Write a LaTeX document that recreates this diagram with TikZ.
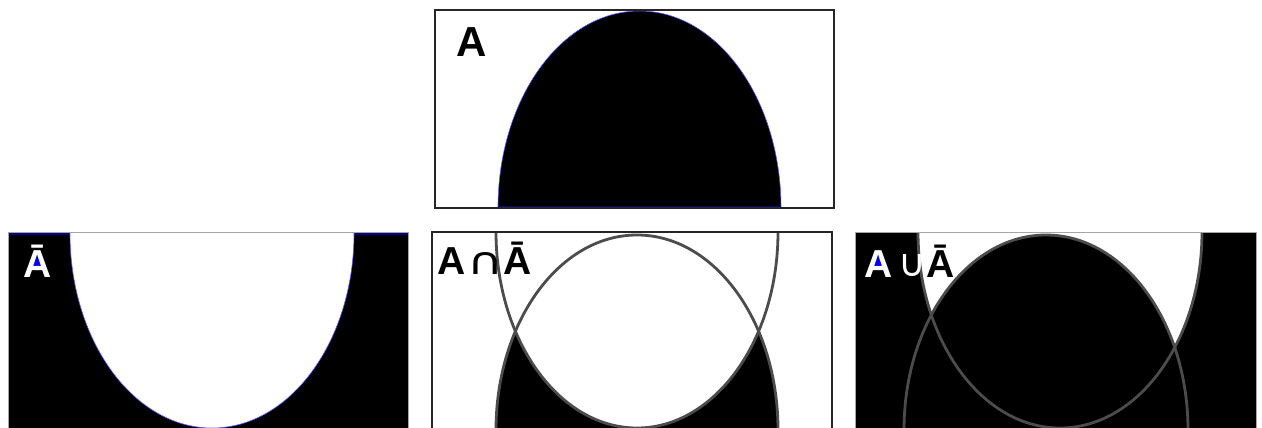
\documentclass[tikz,border=0pt]{standalone}
\usepackage{fontspec}
\setmainfont{Liberation Sans}
\newfontfamily\symfont{DejaVu Sans}
\begin{document}
\begin{tikzpicture}[x=1pt,y=-1pt,
  lab/.style={anchor=base west, inner sep=0pt, font=\fontsize{39}{39}\selectfont\bfseries},
  biglab/.style={anchor=base west, inner sep=0pt, font=\fontsize{42}{42}\selectfont\bfseries},
  symlab/.style={anchor=base west, inner sep=0pt, font=\fontsize{38}{38}\symfont},
  outl/.style={draw=black!70, line width=2.8pt},
  bedge/.style={draw=blue!65, line width=0.6pt},
  frame/.style={draw=black!85, line width=1.6pt},
  lframe/.style={draw=black!35, line width=0.8pt}]
\useasboundingbox (0,0) rectangle (1262,428);
% ---- top panel: A
\begin{scope}
  \clip (435,10) rectangle (834,208);
  \fill[black] (639.5,208) ellipse [x radius=141.5pt, y radius=197pt];
  \draw[bedge] (639.5,208) ellipse [x radius=141.5pt, y radius=197pt];
\end{scope}
\draw[blue!50!black, line width=1.2pt] (498,207) -- (781,207);
\draw[frame] (435,10) rectangle (834,208);
\node[biglab] (la) at (456,57) {A};
% ---- bottom left: complement
\begin{scope}
  \clip (8,232) rectangle (408,430);
  \fill[black] (8,232) rectangle (408,430);
  \draw[blue!50!black, line width=1.2pt] (8,234) -- (408,234);
  \fill[white] (212,233) ellipse [x radius=142pt, y radius=195pt];
  \draw[bedge] (212,233) ellipse [x radius=142pt, y radius=195pt];
\end{scope}
\draw[lframe] (8,232) rectangle (408,430);
\fill[blue] (38,254) -- (32.5,267) -- (43.5,267) -- cycle;
\node[lab, white] (lb) at (23,277) {Ā};
% ---- middle: intersection
\begin{scope}
  \clip (432,232) rectangle (832,430);
  \fill[white] (432,232) rectangle (832,430);
  \fill[black] (637,430) ellipse [x radius=141pt, y radius=195pt];
  \draw[bedge] (637,430) ellipse [x radius=141pt, y radius=195pt];
  \fill[white] (637,232) ellipse [x radius=141pt, y radius=196pt];
  \draw[outl] (637,430) ellipse [x radius=141pt, y radius=195pt];
  \draw[outl] (637,232) ellipse [x radius=141pt, y radius=196pt];
\end{scope}
\draw[frame] (432,232) rectangle (832,430);
\node[lab] (m1) at (437,274) {A};
\node[symlab] (m2) at (467,274) {\scalebox{1.3}[1]{∩}};
\node[lab] (m3) at (503,274) {Ā};
% ---- right: union
\begin{scope}
  \clip (855,232) rectangle (1256,430);
  \fill[black] (855,232) rectangle (1256,430);
  \fill[white] (1060,232) ellipse [x radius=142pt, y radius=196pt];
  \fill[black] (1046,430) ellipse [x radius=142pt, y radius=195pt];
  \draw[outl] (1046,430) ellipse [x radius=142pt, y radius=195pt];
  \draw[outl] (1060,232) ellipse [x radius=142pt, y radius=196pt];
\end{scope}
\draw[lframe] (855,232) rectangle (1256,430);
\fill[blue] (879,254) -- (873.5,267) -- (884.5,267) -- cycle;
\node[lab, white] (r1) at (864,277) {A};
\node[symlab, white] (r2) at (898,276) {∪};
\node[lab] (r3) at (926,277) {Ā};
\end{tikzpicture}
\end{document}
